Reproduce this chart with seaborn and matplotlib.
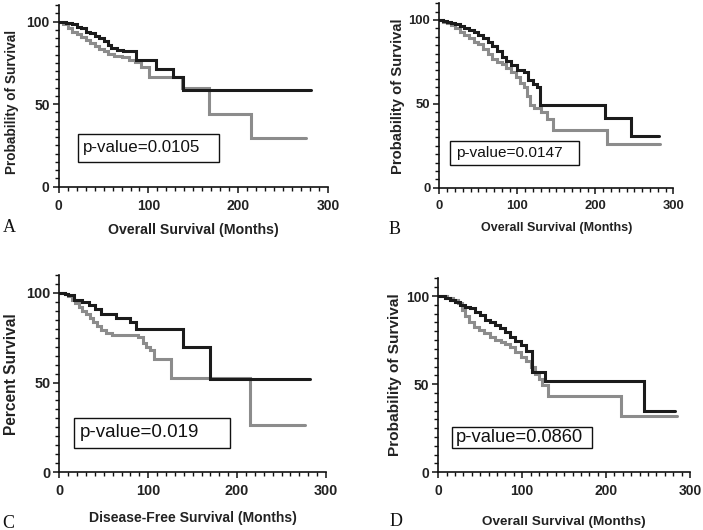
import numpy as np
import pandas as pd
import matplotlib
matplotlib.use("Agg")
import matplotlib.pyplot as plt
from matplotlib.ticker import MultipleLocator
from matplotlib.patches import Rectangle
import seaborn as sns

# ---------------- data ----------------
# Panel A : overall survival
A_black_t = [0, 8, 15, 20, 25, 30, 35, 40, 45, 50, 55, 58, 65, 72, 80, 86, 108, 127, 139, 281]
A_black_s = [100, 99.5, 98.5, 97, 96, 94, 93, 91.5, 90, 88, 86, 84, 83, 82.5, 82, 77, 71.5, 66.5, 58.6, 58.6]
A_gray_t = [0, 5, 10, 15, 20, 25, 30, 35, 40, 45, 50, 55, 62, 70, 78, 85, 92, 101, 137, 167, 214, 276]
A_gray_s = [100, 98.5, 96, 94, 92.5, 90.5, 89, 87, 85, 83.5, 82, 80.5, 79.5, 78.5, 77, 75.5, 72.5, 66.5, 59.8, 44, 29.7, 29.7]

# Panel B : overall survival
B_black_t = [0, 5, 10, 15, 20, 26, 32, 38, 44, 50, 56, 62, 68, 74, 80, 86, 92, 99, 108, 114, 120, 125, 129, 212, 246, 282]
B_black_s = [100, 99.5, 99, 98, 97.5, 96.5, 95, 94, 93, 91, 89.5, 87, 84.5, 81.5, 78, 75.5, 73, 70, 69, 64, 62, 60, 49.5, 41.5, 31, 31]
B_gray_t = [0, 5, 10, 15, 20, 26, 32, 38, 44, 50, 56, 62, 68, 74, 80, 86, 92, 98, 104, 108, 112, 116, 122, 130, 138, 146, 215, 283]
B_gray_s = [100, 99, 98, 97, 95.5, 93, 91, 89, 87, 85.5, 83, 79.5, 76.5, 75, 73.5, 71.5, 69, 66, 62.5, 60, 54.5, 49.5, 47.5, 45, 41, 34.5, 26, 26]

# Panel C : disease-free survival
C_black_t = [0, 6, 10, 17, 25, 33, 40, 47, 64, 80, 86, 139, 169, 282]
C_black_s = [100, 99.5, 98.5, 96, 95, 93, 91, 88, 86, 83.5, 80, 70, 52, 52]
C_gray_t = [0, 6, 10, 14, 18, 22, 26, 30, 34, 38, 42, 47, 53, 59, 88, 94, 98, 102, 107, 126, 215, 276]
C_gray_s = [100, 99, 98, 96, 94, 92, 90, 88, 86, 83.5, 81.5, 79, 77.5, 76.5, 75.5, 72, 70, 68, 63, 52.5, 26.5, 26.5]

# Panel D : overall survival
D_black_t = [0, 8, 14, 20, 26, 32, 38, 44, 50, 56, 62, 68, 74, 80, 86, 92, 98, 104, 112, 127, 245, 282]
D_black_s = [100, 99, 98, 96.5, 95, 94, 93, 91, 89, 86.5, 85, 83.5, 82, 79.5, 77, 74.5, 72, 69, 57, 52, 35, 35]
D_gray_t = [0, 10, 18, 24, 28, 32, 36, 42, 48, 55, 62, 68, 75, 80, 86, 92, 98, 104, 110, 115, 120, 124, 131, 218, 284]
D_gray_s = [100, 99, 98, 96, 92, 88.5, 85.5, 82.5, 80.5, 79, 77, 75, 74, 73, 71, 68.5, 65.5, 63, 60, 56, 53, 49.5, 43, 32, 32]

panel_letters = ["A", "B", "C", "D"]
x_labels = ["Overall Survival (Months)", "Overall Survival (Months)",
            "Disease-Free Survival (Months)", "Overall Survival (Months)"]
y_labels = ["Probability of Survival", "Probability of Survival",
            "Percent Survival", "Probability of Survival"]
p_values = ["p-value=0.0105", "p-value=0.0147", "p-value=0.019", "p-value=0.0860"]
x_ticks = [0, 100, 200, 300]
y_ticks = [0, 50, 100]

curves = [
    (A_black_t, A_black_s, A_gray_t, A_gray_s),
    (B_black_t, B_black_s, B_gray_t, B_gray_s),
    (C_black_t, C_black_s, C_gray_t, C_gray_s),
    (D_black_t, D_black_s, D_gray_t, D_gray_s),
]

# ---------------- layout (pixels in the 703x530 figure) ----------------
W, H = 703, 530
layout = [
    dict(l=58.7, r=328.0, b=186.7, ppu=1.65, ylx=12.5, yly=101.7, xly=230, lx=3, ly=228,
         box=(21, 179, 15.2, 31.9), tx=27, ty=23.5, pfs=12.2, xfs=10.2, yfs=9.8, tfs=10),
    dict(l=439.3, r=673.3, b=187.7, ppu=1.677, ylx=398, yly=96.3, xly=228, lx=389, ly=229,
         box=(13.7, 179.5, 13.5, 28.0), tx=21.4, ty=20.8, pfs=11.1, xfs=9.0, yfs=10.6, tfs=9.4),
    dict(l=59.3, r=326.0, b=472.3, ppu=1.796, ylx=11, yly=374, xly=518, lx=2, ly=523,
         box=(16.5, 192, 13.7, 30.4), tx=23.3, ty=22, pfs=13.5, xfs=10.1, yfs=11.2, tfs=10.4),
    dict(l=438.3, r=690.0, b=472.3, ppu=1.763, ylx=395, yly=375, xly=522, lx=390, ly=521,
         box=(16, 183.6, 14, 25.5), tx=21, ty=19.8, pfs=13.2, xfs=9.7, yfs=11.1, tfs=10),
]

sns.set_style("ticks")
plt.rcParams['font.family'] = ['Liberation Sans', 'DejaVu Sans']
plt.rcParams['xtick.minor.visible'] = True
plt.rcParams['ytick.minor.visible'] = True

fig = plt.figure(figsize=(W / 100, H / 100), dpi=100)

BLACK = "#1b1b1b"
GRAY = "#8c8c8c"
YMAX = 110

for i, (lay, crv) in enumerate(zip(layout, curves)):
    bt, bs, gt, gs = crv
    height_px = YMAX * lay["ppu"]
    ax = fig.add_axes([lay["l"] / W, 1 - lay["b"] / H,
                       (lay["r"] - lay["l"]) / W, height_px / H])

    df = pd.concat([
        pd.DataFrame({"t": gt, "s": gs, "grp": "gray"}),
        pd.DataFrame({"t": bt, "s": bs, "grp": "black"}),
    ], ignore_index=True)
    sns.lineplot(data=df, x="t", y="s", hue="grp", hue_order=["gray", "black"],
                 palette={"gray": GRAY, "black": BLACK}, estimator=None, sort=False,
                 drawstyle="steps-post", linewidth=2.2, legend=False, ax=ax,
                 solid_joinstyle="miter")

    ax.set_xlim(0, 300)
    ax.set_ylim(0, YMAX)
    ax.set_xticks(x_ticks)
    ax.set_yticks(y_ticks)
    ax.xaxis.set_minor_locator(MultipleLocator(10))
    ax.yaxis.set_minor_locator(MultipleLocator(5))
    for s in ["top", "right"]:
        ax.spines[s].set_visible(False)
    for s in ["left", "bottom"]:
        ax.spines[s].set_linewidth(1.2)
        ax.spines[s].set_color("#111111")
    ax.tick_params(which="major", direction="out", length=4.5, width=1.1, color="#111111",
                   labelsize=lay["tfs"], pad=2)
    ax.tick_params(which="minor", direction="out", length=3.0, width=1.0, color="#111111")
    ax.tick_params(axis="x", which="major", pad=4)
    for lab in ax.get_xticklabels() + ax.get_yticklabels():
        lab.set_fontweight("bold")
        lab.set_color("#222222")

    ax.set_xlabel(x_labels[i], fontsize=lay["xfs"], fontweight="bold", color="#222222")
    ax.set_ylabel(y_labels[i], fontsize=lay["yfs"], fontweight="bold", color="#222222")
    ax.xaxis.label.set_va("center")
    ax.yaxis.label.set_va("center")
    w_px = lay["r"] - lay["l"]
    ax.xaxis.set_label_coords(0.5, -(lay["xly"] - lay["b"]) / height_px)
    ax.yaxis.set_label_coords((lay["ylx"] - lay["l"]) / w_px, (lay["b"] - lay["yly"]) / height_px)

    x0, x1, y0, y1 = lay["box"]
    ax.add_patch(Rectangle((x0, y0), x1 - x0, y1 - y0, fill=True, facecolor="white",
                           edgecolor="#111111", linewidth=1.0, zorder=5))
    ax.text(lay["tx"], lay["ty"], p_values[i], fontsize=lay["pfs"], ha="left", va="center",
            color="#111111", zorder=6)

    fig.text(lay["lx"] / W, 1 - lay["ly"] / H, panel_letters[i], family="Liberation Serif",
             fontsize=13, ha="left", va="center", color="#111111")

fig.savefig("out.png", dpi=100, facecolor="white")
